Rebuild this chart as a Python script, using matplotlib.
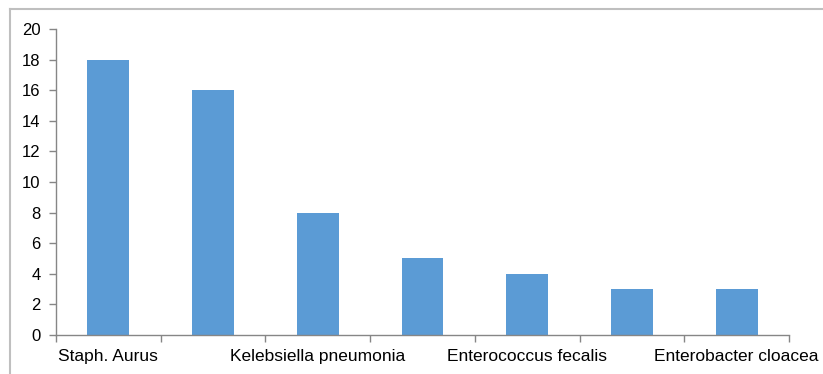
import numpy as np
import matplotlib
matplotlib.use('Agg')
import matplotlib.pyplot as plt
from matplotlib.lines import Line2D

# only every other category name is printed on the chart
labels = ['Staph. Aurus', '', 'Kelebsiella pneumonia', '', 'Enterococcus fecalis', '', 'Enterobacter cloacea']
counts = [18, 16, 8, 5, 4, 3, 3]

plt.rcParams['font.family'] = 'Liberation Sans'

fig = plt.figure(figsize=(8.23, 3.74), dpi=100)
ax = fig.add_axes([0.068, 0.1043, 0.8907, 0.8182])

x = np.arange(len(counts))
ax.bar(x, counts, width=0.4, color='#5B9BD5')

ax.set_xlim(-0.5, len(counts) - 0.5)
ax.set_ylim(0, 20)
ax.set_yticks(range(0, 21, 2))

ax.set_xticks(x)
ax.set_xticklabels(labels, fontsize=12.5)
ax.set_xticks(np.arange(len(counts) + 1) - 0.5, minor=True)
ax.tick_params(axis='x', which='major', length=0, pad=10)
ax.tick_params(axis='x', which='minor', length=5, color='#868686', width=1)
ax.tick_params(axis='y', length=5, color='#868686', width=1, labelsize=12, pad=6)

for s in ['top', 'right']:
    ax.spines[s].set_visible(False)
for s in ['left', 'bottom']:
    ax.spines[s].set_color('#868686')
    ax.spines[s].set_linewidth(1)

# chart area border (only top and left edges visible in the crop)
fig.add_artist(Line2D([10 / 823, 1], [1 - 9 / 374, 1 - 9 / 374], transform=fig.transFigure, color='#BFBFBF', lw=1.5))
fig.add_artist(Line2D([10 / 823, 10 / 823], [0, 1 - 9 / 374], transform=fig.transFigure, color='#BFBFBF', lw=1.5))

plt.savefig('out.png', dpi=100)
